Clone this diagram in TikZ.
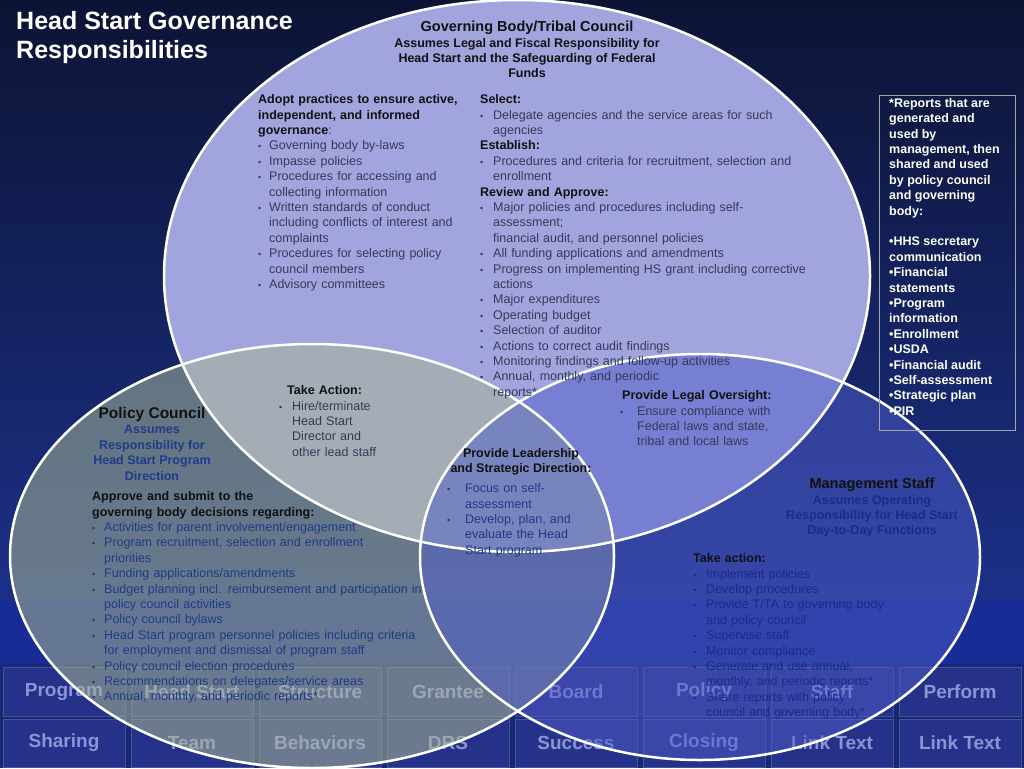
\documentclass[tikz,border=0pt]{standalone}
\usepackage{fontspec}
\setmainfont{Liberation Sans}
\hyphenpenalty=10000
\definecolor{bgtop}{HTML}{0C1434}
\definecolor{bgbot}{HTML}{1C3088}
\definecolor{btn}{HTML}{26328A}
\definecolor{btntxt}{HTML}{8C94D4}
\definecolor{gbfill}{HTML}{A2A4DE}
\definecolor{pcfill}{HTML}{A6B694}
\definecolor{msfill}{HTML}{4E5CC8}
\definecolor{gbtxt}{HTML}{353A58}
\definecolor{pctxt}{HTML}{1E3C88}
\definecolor{mstxt}{HTML}{1C2A8A}
\definecolor{hd}{HTML}{111111}
\newcommand\bl[2][12pt]{\par\hangindent=#1\hangafter=1\noindent\makebox[#1][l]{\small\textbullet}#2}
\newcommand\hh[1]{\par\noindent\textbf{\color{hd}#1}}
\tikzset{
  txt/.style={inner sep=0pt, anchor=north west, align=left, font=\fontsize{12.5}{15.4}\selectfont},
  ctr/.style={inner sep=0pt, anchor=north, align=center, font=\fontsize{12.5}{15.4}\selectfont\bfseries},
  button/.style={fill=btn, draw=btn!85!white, line width=0.5pt},
  btnlabel/.style={font=\fontsize{19}{19}\selectfont\bfseries, text=btntxt},
  venn/.style={draw=white, line width=2.5pt}
}
\begin{document}
\begin{tikzpicture}[x=1pt,y=-1pt]
\useasboundingbox (0,0) rectangle (1024,768);
\shade[top color=bgtop, bottom color=bgbot] (0,0) rectangle (1024,600);
\fill[bgbot!85!black] (0,600) rectangle (1024,768);
\fill[bgbot!90!blue] (0,600) rectangle (1024,664);
% buttons
\foreach \i/\a/\b in {0/Program/Sharing,1/Head Start/Team,2/Structure/Behaviors,3/Grantee/DRS,4/Board/Success,5/Policy/Closing,6/Staff/Link Text,7/Perform/Link Text}{
  \draw[button] (\i*128+3,667) rectangle (\i*128+125,716);
  \draw[button] (\i*128+3,719) rectangle (\i*128+125,767);
  \node[btnlabel] (ba\i) at (\i*128+64,692) {\a};
  \node[btnlabel] (bb\i) at (\i*128+64,743) {\b};
}
% ellipses
\fill[gbfill] (517,276) ellipse [x radius=353, y radius=276];
\fill[pcfill, opacity=0.55] (312,556) ellipse [x radius=302, y radius=212];
\fill[msfill, opacity=0.5] (700,557) ellipse [x radius=280, y radius=203];
\draw[venn] (517,276) ellipse [x radius=353, y radius=276];
\draw[venn] (312,556) ellipse [x radius=302, y radius=212];
\draw[venn] (700,557) ellipse [x radius=280, y radius=203];
% title
\node[txt, text=white, font=\fontsize{25}{29}\selectfont\bfseries] (title) at (16,11) {Head Start Governance\\Responsibilities};
% governing body
\node[ctr, text=hd] (gbh) at (527,21) {{\fontsize{14.5}{16}\selectfont Governing Body/Tribal Council}\\Assumes Legal and Fiscal Responsibility for\\Head Start and the Safeguarding of Federal\\Funds};
\node[txt, text width=210pt, text=gbtxt] (gbl) at (258,88) {\hh{Adopt practices to ensure active,\newline independent, and informed\newline governance}:
\bl[11pt]{Governing body by-laws}
\bl[11pt]{Impasse policies}
\bl[11pt]{Procedures for accessing and\newline collecting information}
\bl[11pt]{Written standards of conduct\newline including conflicts of interest and\newline complaints}
\bl[11pt]{Procedures for selecting policy\newline council members}
\bl[11pt]{Advisory committees}\par};
\node[txt, text width=335pt, text=gbtxt] (gbr) at (480,88) {\hh{Select:}
\bl[13pt]{Delegate agencies and the service areas for such\newline agencies}
\hh{Establish:}
\bl[13pt]{Procedures and criteria for recruitment, selection and\newline enrollment}
\hh{Review and Approve:}
\bl[13pt]{Major policies and procedures including self-\newline assessment;\newline financial audit, and personnel policies}
\bl[13pt]{All funding applications and amendments}
\bl[13pt]{Progress on implementing HS grant including corrective\newline actions}
\bl[13pt]{Major expenditures}
\bl[13pt]{Operating budget}
\bl[13pt]{Selection of auditor}
\bl[13pt]{Actions to correct audit findings}
\bl[13pt]{Monitoring findings and follow-up activities}
\bl[13pt]{Annual, monthly, and periodic\newline reports*}\par};
% take action
\node[txt, text width=125pt, text=gbtxt] (ta) at (279,379) {\hh{\hspace{8pt}Take Action:}
\bl[13pt]{Hire/terminate\newline Head Start\newline Director and\newline other lead staff}\par};
% legal oversight
\node[txt, text width=175pt, text=gbtxt] (lo) at (620,384) {\hh{\hspace{2pt}Provide Legal Oversight:}
\bl[17pt]{Ensure compliance with\newline Federal laws and state,\newline tribal and local laws}\par};
% policy council
\node[ctr, text=pctxt] (pch) at (152,407) {{\fontsize{15.5}{16}\selectfont\color{hd}Policy Council}\\Assumes\\Responsibility for\\Head Start Program\\Direction};
\node[txt, text width=345pt, text=pctxt] (pcb) at (92,485) {\hh{Approve and submit to the\newline governing body decisions regarding:}
\bl{Activities for parent involvement/engagement}
\bl{Program recruitment, selection and enrollment\newline priorities}
\bl{Funding applications/amendments}
\bl{Budget planning incl. reimbursement and participation in\newline policy council activities}
\bl{Policy council bylaws}
\bl{Head Start program personnel policies including criteria\newline for employment and dismissal of program staff}
\bl{Policy council election procedures}
\bl{Recommendations on delegates/service areas}
\bl{Annual, monthly, and periodic reports*}\par};
% leadership
\node[ctr, text=hd] (ldh) at (521,448) {Provide Leadership\\and Strategic Direction:};
\node[txt, text width=150pt, text=pctxt] (ldb) at (447,477) {\bl[18pt]{Focus on self-\newline assessment}
\bl[18pt]{Develop, plan, and\newline evaluate the Head\newline Start program}\par};
% management staff
\node[ctr, text=mstxt] (msh) at (872,478) {{\fontsize{14.5}{16}\selectfont\color{hd}Management Staff}\\Assumes Operating\\Responsibility for Head Start\\Day-to-Day Functions};
\node[txt, text width=215pt, text=mstxt] (msb) at (693,547) {\hh{Take action:}
\bl[13pt]{Implement policies}
\bl[13pt]{Develop procedures}
\bl[13pt]{Provide T/TA to governing body\newline and policy council}
\bl[13pt]{Supervise staff}
\bl[13pt]{Monitor compliance}
\bl[13pt]{Generate and use annual,\newline monthly, and periodic reports*}
\bl[13pt]{Share reports with policy\newline council and governing body*}\par};
% reports box
\draw[draw=gray!70, line width=0.7pt] (879,95) rectangle (1015,430);
\node[txt, text=white, font=\fontsize{12.5}{15.4}\selectfont\bfseries] (box) at (889,98) {*Reports that are\\generated and\\used by\\management, then\\shared and used\\by policy council\\and governing\\body:\\[15.4pt]\textbullet HHS secretary\\communication\\\textbullet Financial\\statements\\\textbullet Program\\information\\\textbullet Enrollment\\\textbullet USDA\\\textbullet Financial audit\\\textbullet Self-assessment\\\textbullet Strategic plan\\\textbullet PIR};
\end{tikzpicture}
\end{document}
